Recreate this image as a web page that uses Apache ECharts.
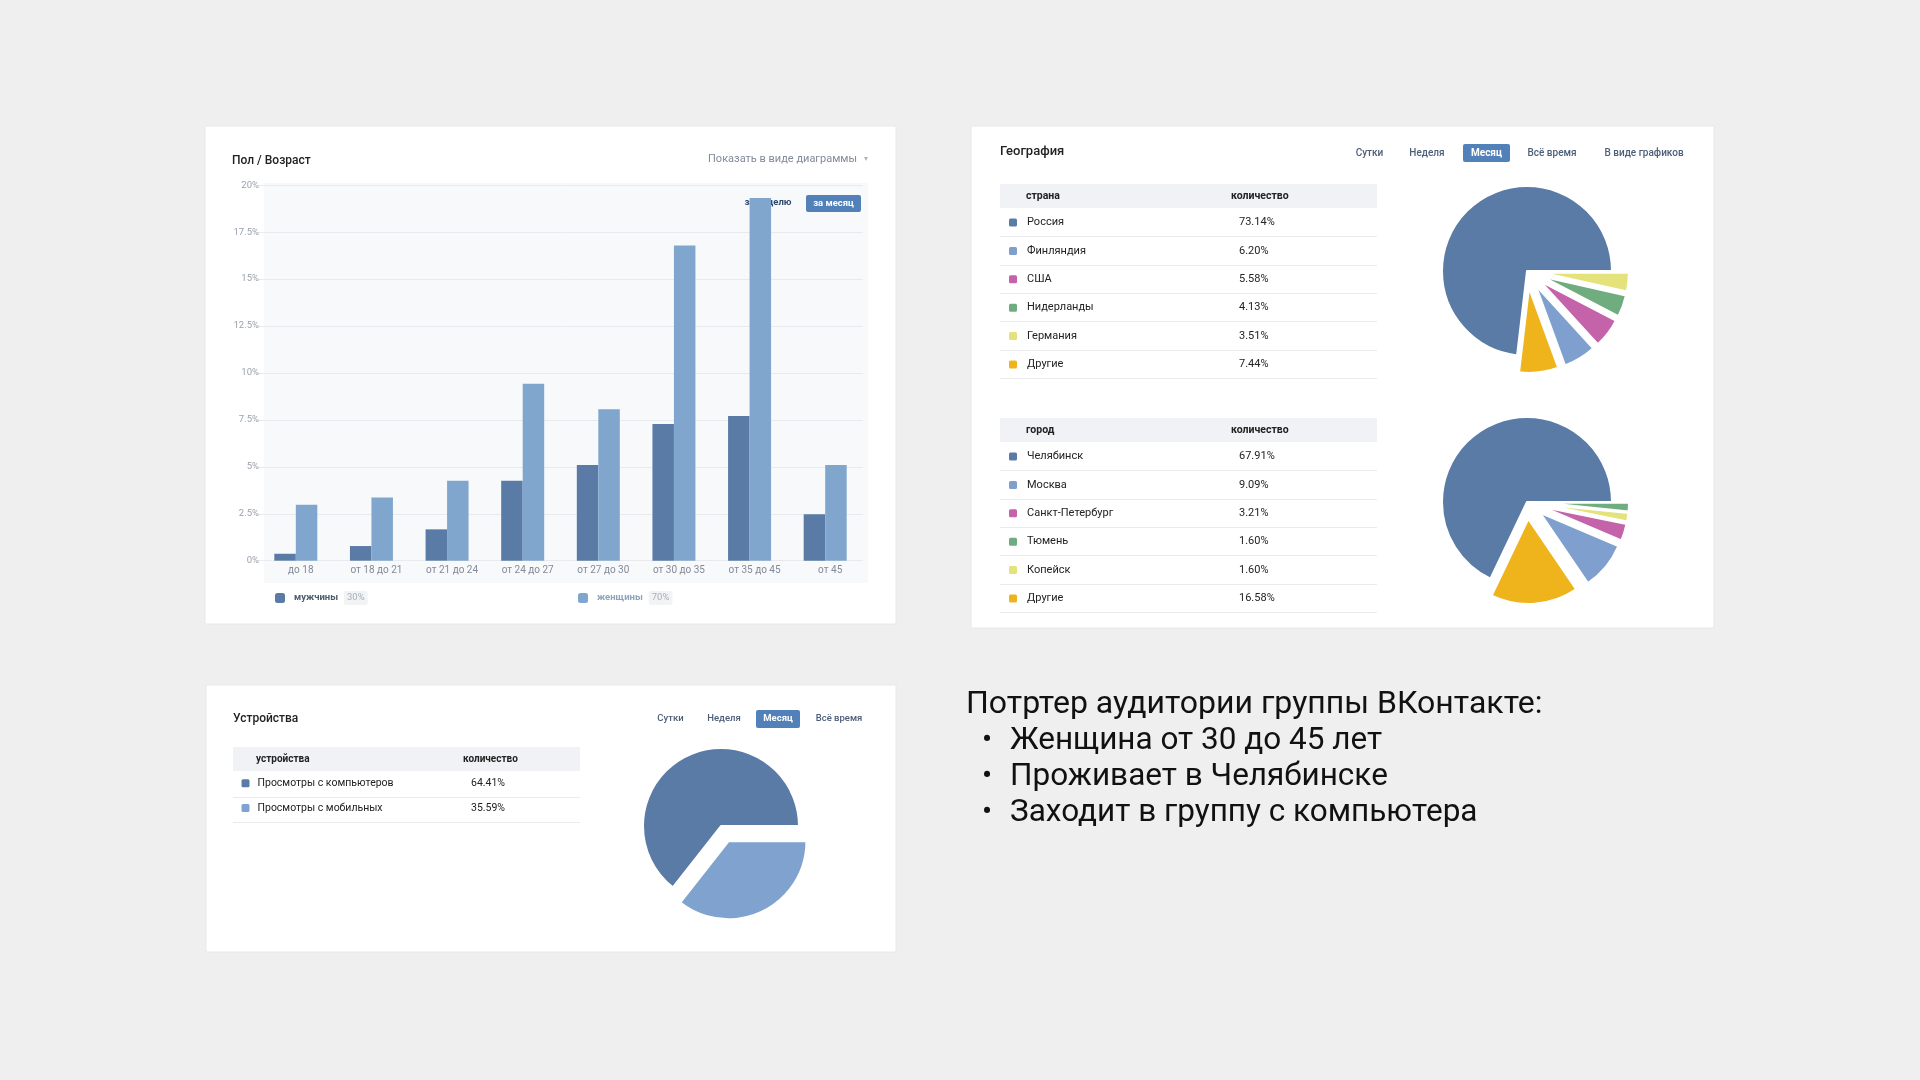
<!DOCTYPE html>
<html><head><meta charset="utf-8">
<script src="https://cdn.jsdelivr.net/npm/echarts@6/dist/echarts.min.js"></script>
<style>html,body{margin:0;padding:0;background:#efefef;}#c{width:1920px;height:1080px;}</style>
</head><body><div id="c"></div>
<script>
// ---------- DATA ----------
const ageCategories = ['до 18','от 18 до 21','от 21 до 24','от 24 до 27','от 27 до 30','от 30 до 35','от 35 до 45','от 45'];
const menValues   = [0.37, 0.78, 1.67, 4.26, 5.10, 7.28, 7.71, 2.47];
const womenValues = [2.98, 3.37, 4.26, 9.42, 8.07, 16.79, 19.32, 5.10];
const genderNames  = ['мужчины', 'женщины'];
const genderShares = ['30%', '70%'];

const countryNames  = ['Россия', 'Финляндия', 'США', 'Нидерланды', 'Германия', 'Другие'];
const countryValues = [73.14, 6.20, 5.58, 4.13, 3.51, 7.44];
const countryPieOrder = [0, 5, 1, 2, 3, 4];

const cityNames  = ['Челябинск', 'Москва', 'Санкт-Петербург', 'Тюмень', 'Копейск', 'Другие'];
const cityValues = [67.91, 9.09, 3.21, 1.60, 1.60, 16.58];
const cityPieOrder = [0, 5, 1, 2, 4, 3];

const deviceNames  = ['Просмотры с компьютеров', 'Просмотры с мобильных'];
const deviceValues = [64.41, 35.59];

const periodTabs = ['Сутки', 'Неделя', 'Месяц', 'Всё время'];
const summaryTitle = 'Потртер аудитории группы ВКонтакте:';
const summaryLines = ['Женщина от 30 до 45 лет', 'Проживает в Челябинске', 'Заходит в группу с компьютера'];

// ---------- STYLE ----------
const FONT = 'Roboto, "Noto Sans", sans-serif';
const C_DARK = '#5a7ba6', C_LIGHT = '#80a6ce';
const slicePalette = ['#5a7ba6', '#7fa0cf', '#c462aa', '#6fac7e', '#e4e27b', '#efb41c'];
const BLUE_BTN = '#5181b8';

const chart = echarts.init(document.getElementById('c'), null, {renderer: 'canvas'});

function txt(text, x, y, o) {
  o = o || {};
  return {type: 'text', z: o.z != null ? o.z : 5, silent: true,
    style: {text: text, x: x, y: y, fill: o.fill || '#222', textAlign: o.align || 'left', textVerticalAlign: 'middle',
      font: (o.weight || 'normal') + ' ' + (o.size || 11) + 'px ' + FONT}};
}
function rect(x, y, w, h, fill, o) {
  o = o || {};
  return {type: 'rect', z: o.z != null ? o.z : -3, silent: true,
    shape: {x: x, y: y, width: w, height: h, r: o.r || 0},
    style: {fill: fill, stroke: o.stroke || null, lineWidth: o.stroke ? 1 : 0}};
}
function hline(x1, x2, y, color) {
  return {type: 'line', z: -1, silent: true, shape: {x1: x1, y1: y, x2: x2, y2: y}, style: {stroke: color, lineWidth: 1}};
}

const graphics = [];
// cards
graphics.push(rect(205, 126, 691, 498, '#fff', {stroke: '#e8e8e8'}));
graphics.push(rect(971, 126, 743, 502, '#fff', {stroke: '#e8e8e8'}));
graphics.push(rect(206, 685, 690, 267, '#fff', {stroke: '#e8e8e8'}));
// bar plot background
graphics.push(rect(264, 183, 604, 400, '#f8f9fb', {z: -2}));

// bar card header
graphics.push(txt('Пол / Возраст', 232, 161, {size: 12, weight: 500, fill: '#222'}));
graphics.push(txt('Показать в виде диаграммы', 857, 159, {size: 11, fill: '#828a99', align: 'right'}));
graphics.push(txt('▾', 866, 159, {size: 8, fill: '#b0b6bf', align: 'center'}));
graphics.push(txt('за неделю', 768, 203, {size: 9.5, weight: 'bold', fill: '#2f4a6b', align: 'center', z: 1}));
graphics.push(rect(806, 195, 55, 17, BLUE_BTN, {z: 4, r: 2}));
graphics.push(txt('за месяц', 833.5, 203.5, {size: 9.5, weight: 'bold', fill: '#fff', align: 'center'}));

// geography header + tabs
graphics.push(txt('География', 1000, 152, {size: 13, weight: 500, fill: '#222'}));
const geoTabX = [1369.5, 1427, 1486.5, 1552];
const geoTabs = periodTabs.concat(['В виде графиков']);
geoTabX.push(1644);
geoTabs.forEach((t, i) => {
  if (t === 'Месяц') {
    graphics.push(rect(1463, 144, 47, 18, BLUE_BTN, {z: 4, r: 2}));
    graphics.push(txt(t, geoTabX[i], 153, {size: 10, weight: 'bold', fill: '#fff', align: 'center'}));
  } else {
    graphics.push(txt(t, geoTabX[i], 153, {size: 10, weight: 500, fill: '#4c5e78', align: 'center'}));
  }
});
// country table
graphics.push(rect(1000, 184, 377, 24, '#f0f2f5', {z: -1}));
graphics.push(txt('страна', 1026, 196, {size: 10.5, weight: 'bold'}));
graphics.push(txt('количество', 1231, 196, {size: 10.5, weight: 'bold'}));
countryNames.forEach((n, i) => graphics.push(hline(1000, 1377, Math.round(208 + (i + 1) * 28.33) + 0.5, '#e9ebee')));
// city table
graphics.push(rect(1000, 418, 377, 24, '#f0f2f5', {z: -1}));
graphics.push(txt('город', 1026, 430, {size: 10.5, weight: 'bold'}));
graphics.push(txt('количество', 1231, 430, {size: 10.5, weight: 'bold'}));
cityNames.forEach((n, i) => graphics.push(hline(1000, 1377, Math.round(442 + (i + 1) * 28.33) + 0.5, '#e9ebee')));

// devices header + tabs
graphics.push(txt('Устройства', 233, 719, {size: 12, weight: 500, fill: '#222'}));
const devTabX = [670.5, 724, 778, 839];
periodTabs.forEach((t, i) => {
  if (t === 'Месяц') {
    graphics.push(rect(756, 710, 44, 18, BLUE_BTN, {z: 4, r: 2}));
    graphics.push(txt(t, devTabX[i], 719, {size: 9.5, weight: 'bold', fill: '#fff', align: 'center'}));
  } else {
    graphics.push(txt(t, devTabX[i], 719, {size: 9.5, weight: 500, fill: '#4c5e78', align: 'center'}));
  }
});
graphics.push(rect(233, 747, 347, 24, '#f0f2f5', {z: -1}));
graphics.push(txt('устройства', 256, 759, {size: 10, weight: 'bold'}));
graphics.push(txt('количество', 463, 759, {size: 10, weight: 'bold'}));
deviceNames.forEach((n, i) => graphics.push(hline(233, 580, Math.round(771 + (i + 1) * 25.5) + 0.5, '#e9ebee')));

// summary text
graphics.push(txt(summaryTitle, 966, 705, {size: 32, fill: '#111'}));
summaryLines.forEach((l, i) => {
  const y = 741 + i * 36.3;
  graphics.push(txt('•', 987, y, {size: 30, fill: '#111', align: 'center'}));
  graphics.push(txt(l, 1010, y, {size: 31.5, fill: '#111'}));
});

// ---------- pie data ----------
function pieData(names, values, order) {
  return order.map((idx, k) => ({
    name: names[idx], value: values[idx],
    selected: k !== 0,
    itemStyle: {color: slicePalette[idx]}
  }));
}
const devicePie = deviceNames.map((n, i) => ({name: n, value: deviceValues[i], selected: i !== 0,
  itemStyle: {color: i === 0 ? C_DARK : '#7fa2cf'}}));

function tableLegend(names, values, left, top, gap, nameW, padL, size) {
  return {
    show: true, orient: 'vertical', left: left, top: top, itemWidth: 10, itemHeight: 10, itemGap: gap,
    icon: 'roundRect', selectedMode: false, data: names, padding: 0,
    formatter: function (name) {
      const v = values[names.indexOf(name)];
      return '{n|' + name + '}{v|' + v.toFixed(2) + '%}';
    },
    textStyle: {rich: {
      n: {width: nameW, padding: [0, 0, 0, padL], fontSize: size, fontFamily: FONT, color: '#222', lineHeight: 14},
      v: {fontSize: size, fontFamily: FONT, color: '#222', lineHeight: 14}
    }}
  };
}
function genderLegend(i, left, nameColor) {
  return {
    show: true, left: left, top: 591, itemWidth: 10, itemHeight: 10, icon: 'roundRect', selectedMode: false,
    padding: 0, data: [genderNames[i]],
    formatter: name => '{n|' + name + '}{p|' + genderShares[i] + '}',
    textStyle: {rich: {
      n: {fontSize: 9.5, fontWeight: 'bold', fontFamily: FONT, color: nameColor, padding: [0, 6, 0, 4], lineHeight: 14},
      p: {fontSize: 9.5, fontFamily: FONT, color: '#a8b0ba', backgroundColor: '#f1f3f5', padding: [2, 3], borderRadius: 2}
    }}
  };
}

const option = {
  backgroundColor: '#efefef',
  animation: false,
  textStyle: {fontFamily: FONT},
  graphic: {elements: graphics},
  legend: [
    genderLegend(0, 275, '#4d5b6e'),
    genderLegend(1, 578, '#8ea3bf'),
    tableLegend(countryNames, countryValues, 1007, 216.5, 16.4, 212, 4, 11),
    tableLegend(cityNames, cityValues, 1007, 450.5, 16.4, 212, 4, 11),
    tableLegend(deviceNames, deviceValues, 239.5, 777.3, 12.7, 213.5, 2, 10.5)
  ],
  grid: {left: 258, top: 185.2, width: 605, height: 375.5, containLabel: false, outerBoundsMode: 'none'},
  xAxis: {
    type: 'category', data: ageCategories,
    axisLine: {show: false}, axisTick: {show: false},
    axisLabel: {color: '#828a99', fontSize: 10, margin: 5, fontFamily: FONT, interval: 0, padding: [0, 0, 0, 10]}
  },
  yAxis: {
    type: 'value', min: 0, max: 20, interval: 2.5,
    axisLine: {show: false}, axisTick: {show: false},
    axisLabel: {color: '#9aa2ad', fontSize: 9.5, margin: -1, fontFamily: FONT, formatter: v => v + '%'},
    splitLine: {lineStyle: {color: '#e8eaee', width: 1}}
  },
  series: [
    {name: genderNames[0], type: 'bar', data: menValues, barWidth: 21.5, barGap: '0%',
      itemStyle: {color: C_DARK}, silent: true},
    {name: genderNames[1], type: 'bar', data: womenValues, barWidth: 21.5, barGap: '0%',
      itemStyle: {color: C_LIGHT}, silent: true},
    {type: 'pie', center: [1527, 271], radius: 85, startAngle: 0, clockwise: false,
      selectedMode: 'multiple', selectedOffset: 17, label: {show: false}, labelLine: {show: false},
      silent: true, emphasis: {disabled: true}, itemStyle: {borderColor: '#fff', borderWidth: 2},
      data: pieData(countryNames, countryValues, countryPieOrder)},
    {type: 'pie', center: [1527, 502], radius: 85, startAngle: 0, clockwise: false,
      selectedMode: 'multiple', selectedOffset: 17, label: {show: false}, labelLine: {show: false},
      silent: true, emphasis: {disabled: true}, itemStyle: {borderColor: '#fff', borderWidth: 2},
      data: pieData(cityNames, cityValues, cityPieOrder)},
    {type: 'pie', center: [721, 826], radius: 78, startAngle: 0, clockwise: false,
      selectedMode: 'multiple', selectedOffset: 17, label: {show: false}, labelLine: {show: false},
      silent: true, emphasis: {disabled: true}, itemStyle: {borderColor: '#fff', borderWidth: 2},
      data: devicePie}
  ]
};
chart.setOption(option);
</script></body></html>
